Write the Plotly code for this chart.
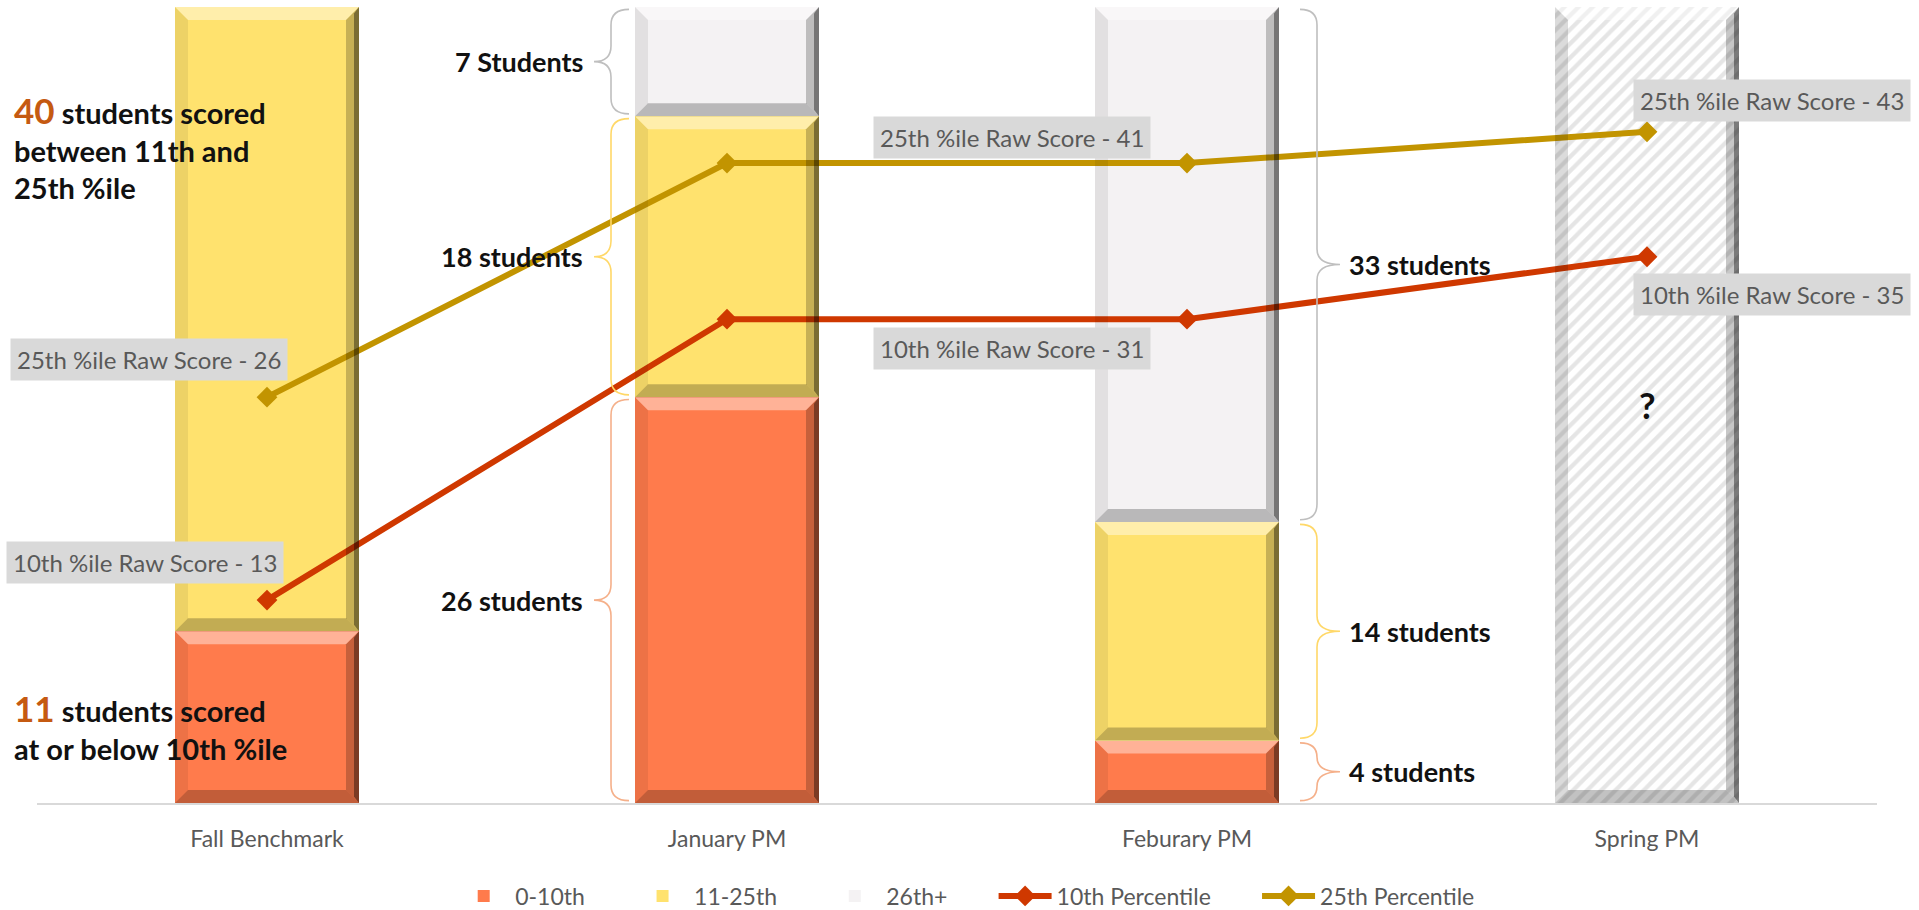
import plotly.graph_objects as go

# ---- data ----
categories = ["Fall Benchmark", "January PM", "Feburary PM", "Spring PM"]
band_0_10 = [11, 26, 4]          # students at or below 10th %ile
band_11_25 = [40, 18, 14]        # students between 11th and 25th %ile
band_26_plus = [0, 7, 33]        # students at 26th %ile and above
spring_total = [51]              # spring benchmark not yet given
pct10_raw = [13, 31, 31, 35]     # 10th percentile raw score
pct25_raw = [26, 41, 41, 43]     # 25th percentile raw score

FONT = "Lato, 'Open Sans', sans-serif"
C_LOW = "#FF7B4C"
C_MID = "#FFE26E"
C_HIGH = "#F4F2F3"
C_P10 = "#CF3800"
C_P25 = "#C29400"

W, H = 1919, 910
M_L, M_R, M_T, M_B = 37, 42, 7, 107
Y_MAX = 51
BAR_W = 0.4
px_x = (W - M_L - M_R) / 4.0        # pixels per category unit
px_y = (H - M_T - M_B) / Y_MAX      # pixels per student
PAD = "\u00a0" * 7                  # extra room after a legend entry

fig = go.Figure()

xs = list(range(len(band_0_10)))
fig.add_trace(go.Bar(x=xs, y=band_0_10, name="0-10th" + PAD, width=BAR_W,
                     marker=dict(color=C_LOW, line=dict(width=0))))
fig.add_trace(go.Bar(x=xs, y=band_11_25, name="11-25th" + PAD, width=BAR_W,
                     marker=dict(color=C_MID, line=dict(width=0))))
fig.add_trace(go.Bar(x=xs, y=band_26_plus, name="26th+" + PAD, width=BAR_W,
                     marker=dict(color=C_HIGH, line=dict(color="#8C8C8C", width=0))))
fig.add_trace(go.Bar(x=[3], y=spring_total, name="Spring", width=BAR_W, showlegend=False,
                     marker=dict(color="#FFFFFF", line=dict(width=0),
                                 pattern=dict(shape="/", fgcolor="#CCCCCC", bgcolor="#FFFFFF",
                                              size=10, solidity=0.42))))

fig.add_trace(go.Scatter(x=list(range(4)), y=pct10_raw, name="10th Percentile" + PAD,
                         mode="lines+markers", line=dict(color=C_P10, width=6),
                         marker=dict(symbol="diamond", size=16, color=C_P10)))
fig.add_trace(go.Scatter(x=list(range(4)), y=pct25_raw, name="25th Percentile",
                         mode="lines+markers", line=dict(color=C_P25, width=6),
                         marker=dict(symbol="diamond", size=16, color=C_P25)))

shapes = []


def poly(pts, fill):
    d = "M " + " L ".join(f"{x},{y}" for x, y in pts) + " Z"
    return dict(type="path", path=d, xref="x", yref="y", fillcolor=fill,
                line=dict(width=0), layer="above")


def bevel(xc, y0, y1, left_shade=0.07):
    """Raised-edge effect around one bar segment."""
    x0, x1 = xc - BAR_W / 2, xc + BAR_W / 2
    bx, by = 13 / px_x, 13 / px_y
    by = min(by, (y1 - y0) / 3)
    sx = 5 / px_x
    return [
        poly([(x0, y1), (x1, y1), (x1 - bx, y1 - by), (x0 + bx, y1 - by)], "rgba(255,255,255,0.42)"),
        poly([(x0, y1), (x0 + bx, y1 - by), (x0 + bx, y0 + by), (x0, y0)], f"rgba(0,0,0,{left_shade})"),
        poly([(x1, y1), (x1, y0), (x1 - bx, y0 + by), (x1 - bx, y1 - by)], "rgba(0,0,0,0.22)"),
        poly([(x1, y1), (x1, y0), (x1 - sx, y0 + by / 2), (x1 - sx, y1 - by / 2)], "rgba(0,0,0,0.38)"),
        poly([(x0, y0), (x1, y0), (x1 - bx, y0 + by), (x0 + bx, y0 + by)], "rgba(0,0,0,0.24)"),
    ]


for i in xs:
    base = 0
    for band in (band_0_10, band_11_25, band_26_plus):
        v = band[i]
        if v > 0:
            shapes += bevel(i, base, base + v)
        base += v
shapes += bevel(3, 0, spring_total[0], left_shade=0.14)


def brace(x_tip, x_mid, x_end, y0, y1, color):
    r = min(1.0, (y1 - y0) / 4)
    ym = (y0 + y1) / 2
    d = (f"M {x_end},{y1} Q {x_mid},{y1} {x_mid},{y1 - r} L {x_mid},{ym + r} "
         f"Q {x_mid},{ym} {x_tip},{ym} Q {x_mid},{ym} {x_mid},{ym - r} "
         f"L {x_mid},{y0 + r} Q {x_mid},{y0} {x_end},{y0}")
    return dict(type="path", path=d, xref="x", yref="y", line=dict(color=color, width=1.6),
                layer="above")


annotations = []
bold = dict(family=FONT, size=27, color="#111111")
brace_colors = ["#F5B08A", "#FFD868", "#BFBFBF"]
gap = 0.15

# braces beside January (left side) and February (right side)
# offsets from the bar edge in pixels: (end, mid, tip)
for i, side, offs in ((1, -1, (6, 24, 41)), (2, 1, (21, 38, 61))):
    edge = i + side * BAR_W / 2
    x_end, x_mid, x_tip = (edge + side * o / px_x for o in offs)
    base = 0
    for band, col in zip((band_0_10, band_11_25, band_26_plus), brace_colors):
        v = band[i]
        shapes.append(brace(x_tip, x_mid, x_end, base + gap, base + v - gap, col))
        word = "Students" if (i == 1 and band is band_26_plus) else "students"
        annotations.append(dict(x=x_tip, y=base + v / 2, xref="x", yref="y", showarrow=False,
                                text=f"<b>{v} {word}</b>", font=bold,
                                xanchor="right" if side < 0 else "left",
                                xshift=-9 if side < 0 else 7))
        base += v

# raw score labels
label_style = dict(font=dict(family=FONT, size=24, color="#595959"), bgcolor="#D9D9D9",
                   borderpad=6, showarrow=False, xref="x", yref="y")
label_spots = [
    ("25th", pct25_raw, 0, "right", 21, "bottom", 16),
    ("10th", pct10_raw, 0, "right", 17, "bottom", 16),
    ("25th", pct25_raw, 2, "right", -36, "bottom", 4),
    ("10th", pct10_raw, 2, "right", -36, "top", -8),
    ("25th", pct25_raw, 3, "left", -14, "bottom", 10),
    ("10th", pct10_raw, 3, "left", -14, "top", -16),
]
for tag, series, i, xa, xsh, ya, ysh in label_spots:
    annotations.append(dict(x=i, y=series[i], text=f"{tag} %ile Raw Score - {series[i]}",
                            xanchor=xa, yanchor=ya, xshift=xsh, yshift=ysh, **label_style))

# notes about the fall benchmark
note_x = (12 - M_L) / (W - M_L - M_R)
note_font = dict(family=FONT, size=29, color="#111111")
annotations.append(dict(
    x=note_x, y=42.0, xref="paper", yref="y", xanchor="left", yanchor="middle", align="left",
    showarrow=False, font=note_font,
    text=(f"<b><span style='color:#C55A11;font-size:35px'>{band_11_25[0]}</span> students scored"
          "<br>between 11th and<br>25th %ile</b>")))
annotations.append(dict(
    x=note_x, y=4.9, xref="paper", yref="y", xanchor="left", yanchor="middle", align="left",
    showarrow=False, font=note_font,
    text=(f"<b><span style='color:#C55A11;font-size:35px'>{band_0_10[0]}</span> students scored"
          "<br>at or below 10th %ile</b>")))

annotations.append(dict(x=3, y=spring_total[0] / 2, xref="x", yref="y", showarrow=False,
                        text="<b>?</b>", font=dict(family=FONT, size=36, color="#111111")))

fig.update_layout(
    width=W, height=H,
    margin=dict(l=M_L, r=M_R, t=M_T, b=M_B, autoexpand=False),
    barmode="stack",
    plot_bgcolor="white", paper_bgcolor="white",
    font=dict(family=FONT),
    xaxis=dict(range=[-0.5, 3.5], tickvals=list(range(4)), ticktext=categories,
               showgrid=False, zeroline=False, showline=True, linecolor="#D9D9D9", linewidth=2,
               ticks="", tickfont=dict(family=FONT, size=23, color="#595959"),
               ticklabelstandoff=14),
    yaxis=dict(range=[0, Y_MAX], visible=False, showgrid=False, zeroline=False),
    legend=dict(orientation="h", x=0.505, xanchor="center", xref="paper",
                y=1 - 896 / H, yanchor="middle", yref="container",
                itemwidth=53, font=dict(family=FONT, size=23, color="#595959"),
                traceorder="normal"),
    shapes=shapes,
    annotations=annotations,
    showlegend=True,
)

fig.write_html("out.html")
